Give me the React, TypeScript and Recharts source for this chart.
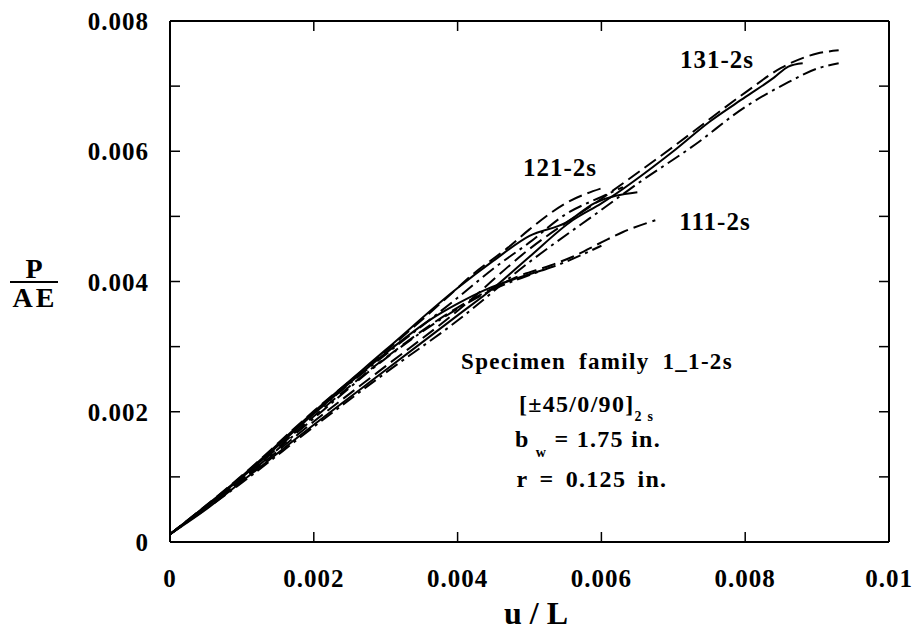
import React from 'react';
import { LineChart, Line, XAxis, YAxis, Customized } from 'recharts';

// ---- axis ticks ----
const xTicks = [0, 0.002, 0.004, 0.006, 0.008, 0.01];
const xTickLabels = ['0', '0.002', '0.004', '0.006', '0.008', '0.01'];
const yTicks = [0, 0.001, 0.002, 0.003, 0.004, 0.005, 0.006, 0.007, 0.008];
const yTickLabels = ['0', '', '0.002', '', '0.004', '', '0.006', '', '0.008'];

// ---- series: [u/L, P/AE] ----
const s111Solid = [
  [0, 0.00012], [0.001, 0.00099], [0.002, 0.00197], [0.003, 0.0029], [0.0036, 0.0034],
  [0.004, 0.00366], [0.0044, 0.00388], [0.0048, 0.00404], [0.0052, 0.00418],
];
const s111Dash = [
  [0, 0.00012], [0.001, 0.00097], [0.002, 0.00193], [0.003, 0.00283], [0.004, 0.0036],
  [0.0045, 0.0039], [0.0048, 0.00406], [0.0053, 0.00425], [0.0056, 0.00438], [0.006, 0.0046],
  [0.0063, 0.00476], [0.00675, 0.00494],
];
const s111DashDot = [
  [0, 0.00012], [0.001, 0.00096], [0.002, 0.0019], [0.003, 0.00282], [0.004, 0.00358],
  [0.0045, 0.00388], [0.005, 0.0041], [0.0055, 0.0043], [0.006, 0.00455],
];

const s121Solid = [
  [0, 0.00012], [0.001, 0.00101], [0.002, 0.002], [0.003, 0.00295], [0.004, 0.0039],
  [0.0045, 0.00432], [0.005, 0.0047], [0.0055, 0.0049], [0.0059, 0.0052], [0.0065, 0.00537],
];
const s121Dash = [
  [0, 0.00012], [0.001, 0.00102], [0.002, 0.00201], [0.003, 0.00293], [0.0039, 0.0038],
  [0.0042, 0.0041], [0.0047, 0.00452], [0.005, 0.0048], [0.0055, 0.0052], [0.006, 0.00543],
];
const s121DashDot = [
  [0, 0.00012], [0.001, 0.001], [0.002, 0.00197], [0.003, 0.00288], [0.004, 0.00375],
  [0.0045, 0.0042], [0.005, 0.0046], [0.0055, 0.00503], [0.006, 0.0053], [0.0063, 0.00545],
];

const s131Solid = [
  [0, 0.00012], [0.0005, 0.0005], [0.001, 0.00093], [0.002, 0.0018], [0.003, 0.00264],
  [0.004, 0.00348], [0.0045, 0.0039], [0.005, 0.00438], [0.0056, 0.00494], [0.006, 0.0052],
  [0.007, 0.006], [0.0075, 0.00645], [0.008, 0.00683], [0.0084, 0.00713], [0.0086, 0.0073],
  [0.0088, 0.00735],
];
const s131Dash = [
  [0, 0.00012], [0.001, 0.00095], [0.002, 0.00185], [0.003, 0.0027], [0.004, 0.00355],
  [0.005, 0.0045], [0.006, 0.00527], [0.007, 0.00607], [0.008, 0.0069], [0.0085, 0.00728],
  [0.009, 0.0075], [0.0093, 0.00755],
];
const s131DashDot = [
  [0, 0.00012], [0.001, 0.00091], [0.002, 0.00177], [0.003, 0.0026], [0.004, 0.0034],
  [0.005, 0.0043], [0.006, 0.0051], [0.0065, 0.0055], [0.0073, 0.0061], [0.008, 0.00668],
  [0.0086, 0.00706], [0.009, 0.00727], [0.0093, 0.00735],
];

const toPts = (a: number[][]) => a.map(([x, y]) => ({ x, y }));

const FONT = '"Liberation Serif", "Times New Roman", serif';
const SOLID = undefined;
const DASH = '14 6';
const DASHDOT = '14 5 3 5';

const seriesList = [
  { key: '111s', data: s111Solid, dash: SOLID },
  { key: '111d', data: s111Dash, dash: DASH },
  { key: '111dd', data: s111DashDot, dash: DASHDOT },
  { key: '121s', data: s121Solid, dash: SOLID },
  { key: '121d', data: s121Dash, dash: DASH },
  { key: '121dd', data: s121DashDot, dash: DASHDOT },
  { key: '131s', data: s131Solid, dash: SOLID },
  { key: '131d', data: s131Dash, dash: DASH },
  { key: '131dd', data: s131DashDot, dash: DASHDOT },
];

const XTick = (props: any) => {
  const { x, y, index } = props;
  return (
    <text x={x} y={y + 45} textAnchor="middle" fontFamily={FONT} fontWeight="bold" fontSize={25} letterSpacing={1} fill="#000">
      {xTickLabels[index]}
    </text>
  );
};

const YTick = (props: any) => {
  const { x, y, index } = props;
  const label = yTickLabels[index];
  if (!label) return <g />;
  return (
    <text x={x - 21} y={y + 9} textAnchor="end" fontFamily={FONT} fontWeight="bold" fontSize={25} letterSpacing={1} fill="#000">
      {label}
    </text>
  );
};

const EmptyTick = () => <g />;

const Annotations = () => {
  const t = { fontFamily: FONT, fontWeight: 'bold' as const, fill: '#000' };
  return (
    <g>
      <text x={717} y={68} textAnchor="middle" fontSize={25} letterSpacing={1} {...t}>131-2s</text>
      <text x={560} y={176} textAnchor="middle" fontSize={25} letterSpacing={1} {...t}>121-2s</text>
      <text x={715} y={230} textAnchor="middle" fontSize={25} letterSpacing={1} {...t}>111-2s</text>

      <text x={597} y={369} textAnchor="middle" fontSize={23} letterSpacing={1.3} wordSpacing={6} {...t}>Specimen family 1_1-2s</text>
      <text x={519} y={412} fontSize={24} letterSpacing={1.3} {...t}>
        [±45/0/90]<tspan fontSize={14} dy={9}>2 s</tspan>
      </text>
      <text x={515} y={447} fontSize={24} letterSpacing={1.3} {...t}>
        b<tspan fontSize={14} dx={6} dy={10}>w</tspan><tspan dy={-10}> = 1.75  in.</tspan>
      </text>
      <text x={592} y={487} textAnchor="middle" fontSize={24} letterSpacing={1.3} wordSpacing={4} {...t}>r = 0.125 in.</text>

      <text x={34} y={278} textAnchor="middle" fontSize={28} {...t}>P</text>
      <line x1={10} x2={58} y1={282} y2={282} stroke="#000" strokeWidth={2} />
      <text x={35} y={307} textAnchor="middle" fontSize={28} letterSpacing={3} {...t}>AE</text>

      <text x={536} y={624} textAnchor="middle" fontSize={32} {...t}>u / L</text>
    </g>
  );
};

const frame = { stroke: '#000', strokeWidth: 2 };
const tickStyle = { stroke: '#000', strokeWidth: 1.5 };

export default function App() {
  return (
    <div style={{ position: 'absolute', left: 0, top: 0, width: 915, height: 632, background: '#fff' }}>
      <LineChart width={915} height={632} margin={{ top: 21, right: 26, bottom: 30, left: 90 }}>
        {/* labelled axes */}
        <XAxis
          xAxisId={0}
          type="number"
          dataKey="x"
          domain={[0, 0.01]}
          ticks={xTicks}
          interval={0}
          allowDataOverflow
          height={60}
          tickSize={0}
          tickMargin={0}
          tick={<XTick />}
          axisLine={frame}
          tickLine={false}
        />
        <YAxis
          yAxisId={0}
          type="number"
          dataKey="y"
          domain={[0, 0.008]}
          ticks={yTicks}
          interval={0}
          allowDataOverflow
          width={80}
          tickSize={0}
          tickMargin={0}
          tick={<YTick />}
          axisLine={frame}
          tickLine={false}
        />
        {/* inward tick marks on all four sides */}
        <XAxis
          xAxisId="bm"
          orientation="bottom"
          mirror
          type="number"
          dataKey="x"
          domain={[0, 0.01]}
          ticks={xTicks}
          interval={0}
          allowDataOverflow
          tickSize={10}
          tick={<EmptyTick />}
          axisLine={false}
          tickLine={tickStyle}
        />
        <XAxis
          xAxisId="tm"
          orientation="top"
          mirror
          type="number"
          dataKey="x"
          domain={[0, 0.01]}
          ticks={xTicks}
          interval={0}
          allowDataOverflow
          tickSize={10}
          tick={<EmptyTick />}
          axisLine={frame}
          tickLine={tickStyle}
        />
        <YAxis
          yAxisId="lm"
          orientation="left"
          mirror
          type="number"
          dataKey="y"
          domain={[0, 0.008]}
          ticks={yTicks}
          interval={0}
          allowDataOverflow
          tickSize={10}
          tick={<EmptyTick />}
          axisLine={false}
          tickLine={tickStyle}
        />
        <YAxis
          yAxisId="rm"
          orientation="right"
          mirror
          type="number"
          dataKey="y"
          domain={[0, 0.008]}
          ticks={yTicks}
          interval={0}
          allowDataOverflow
          tickSize={10}
          tick={<EmptyTick />}
          axisLine={frame}
          tickLine={tickStyle}
        />
        {seriesList.map((s) => (
          <Line
            key={s.key}
            data={toPts(s.data)}
            dataKey="y"
            xAxisId={0}
            yAxisId={0}
            type="monotone"
            stroke="#000"
            strokeWidth={2}
            strokeDasharray={s.dash}
            dot={false}
            activeDot={false}
            isAnimationActive={false}
          />
        ))}
        <Customized component={Annotations} />
      </LineChart>
    </div>
  );
}
